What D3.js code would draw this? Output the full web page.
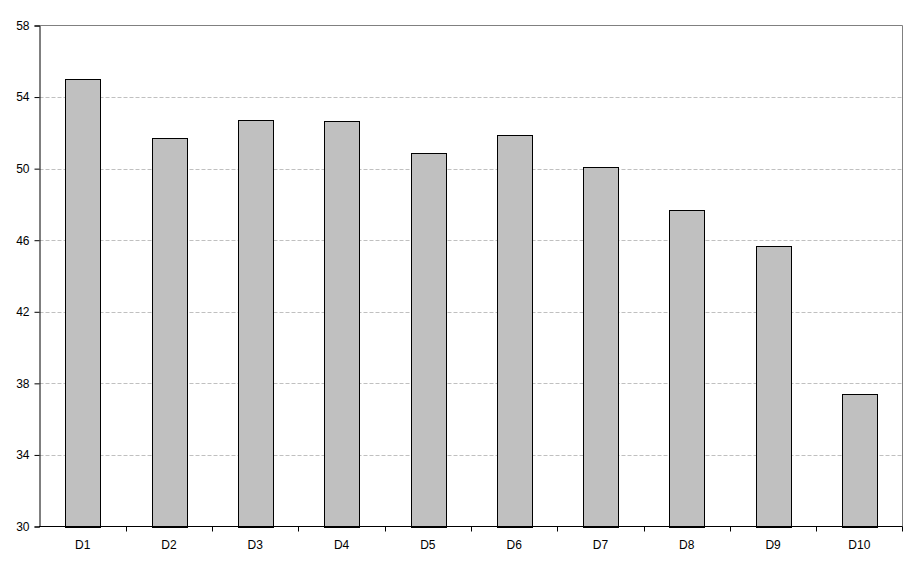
<!DOCTYPE html>
<html><head><meta charset="utf-8">
<script src="https://cdn.jsdelivr.net/npm/d3@7"></script>
<style>body{margin:0;background:#fff}svg{display:block}</style>
</head><body>
<script>
const categories = ["D1","D2","D3","D4","D5","D6","D7","D8","D9","D10"];
const values = [55.0, 51.7, 52.7, 52.65, 50.87, 51.9, 50.08, 47.7, 45.66, 37.43];
const yTicks = [30,34,38,42,46,50,54,58];

const W = 916, H = 570;
const m = {left:39.5, right:13.5, top:25.5, bottom:43.5};
const svg = d3.select("body").append("svg").attr("width",W).attr("height",H);
const x = d3.scaleBand().domain(categories).range([m.left, W-m.right]).paddingInner(0.6).paddingOuter(0.3);
const xb = d3.scaleBand().domain(categories).range([m.left, W-m.right]);
const y = d3.scaleLinear().domain([30,58]).range([H-m.bottom, m.top]);

// gridlines
svg.append("g").selectAll("line").data(yTicks.filter(d=>d>30&&d<58)).join("line")
  .attr("x1",m.left).attr("x2",W-m.right)
  .attr("y1",d=>Math.round(y(d))+0.5).attr("y2",d=>Math.round(y(d))+0.5)
  .attr("stroke","#c0c0c0").attr("stroke-dasharray","4,2");

// top/right border
svg.append("path").attr("d",`M${m.left},${m.top}H${W-m.right}V${H-m.bottom}`)
  .attr("fill","none").attr("stroke","#808080");

// bars
svg.append("g").selectAll("rect").data(values).join("rect")
  .attr("x",(d,i)=>Math.round(x(categories[i]))+0.5)
  .attr("width",Math.round(x.bandwidth()))
  .attr("y",d=>Math.round(y(d))+0.5)
  .attr("height",d=>Math.round(y(30))-Math.round(y(d)))
  .attr("fill","#c0c0c0").attr("stroke","#000");

// y axis
const ya = svg.append("g").attr("transform",`translate(${m.left},0)`)
  .call(d3.axisLeft(y).tickValues(yTicks).tickSize(5).tickPadding(5));
ya.select(".domain").attr("stroke","#000");
ya.selectAll("text").attr("font-family","Liberation Sans, Arial, sans-serif").attr("font-size","12px").attr("fill","#000");

// x axis
const xa = svg.append("g").attr("transform",`translate(0,${H-m.bottom})`);
xa.append("line").attr("x1",m.left-0.5).attr("x2",W-m.right).attr("stroke","#000");
xa.selectAll(".tk").data(categories).join("line").attr("class","tk")
  .attr("x1",d=>Math.round(xb(d)+xb.bandwidth())+0.5).attr("x2",d=>Math.round(xb(d)+xb.bandwidth())+0.5)
  .attr("y1",0).attr("y2",5).attr("stroke","#000");
xa.selectAll("text").data(categories).join("text")
  .attr("x",d=>xb(d)+xb.bandwidth()/2).attr("y",22)
  .attr("text-anchor","middle")
  .attr("font-family","Liberation Sans, Arial, sans-serif").attr("font-size","12px").attr("fill","#000")
  .text(d=>d);
</script>
</body></html>
